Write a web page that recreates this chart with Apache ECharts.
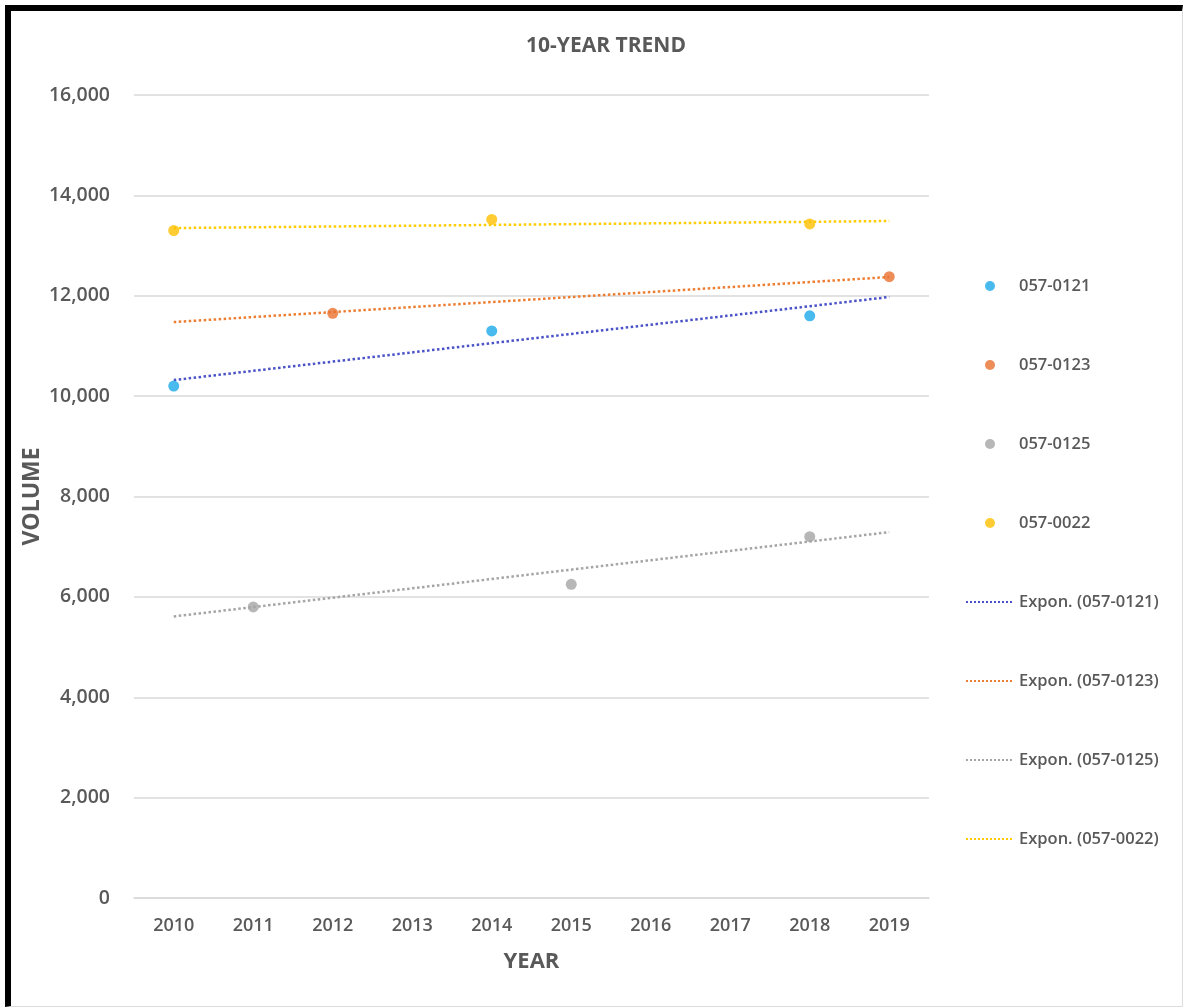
<!DOCTYPE html>
<html>
<head>
<meta charset="utf-8">
<script src="https://cdn.jsdelivr.net/npm/echarts@6/dist/echarts.min.js"></script>
<style>
  body { margin: 0; background: #fff; }
  #chart { width: 1190px; height: 1008px; }
  #frame {
    position: absolute; left: 5px; top: 5px; width: 1178px; height: 1002px;
    border-top: 6px solid #000; border-left: 6px solid #000;
    border-right: 1px solid #ddd; border-bottom: 1px solid #ddd;
    box-sizing: border-box; pointer-events: none;
  }
</style>
</head>
<body>
<div id="chart"></div>
<div id="frame"></div>
<script>
const years = ['2010', '2011', '2012', '2013', '2014', '2015', '2016', '2017', '2018', '2019'];

// scatter points (null = no value that year)
const v0121 = [10200, null, null, null, 11300, null, null, null, 11600, null];
const v0123 = [null, null, 11650, null, null, null, null, null, null, 12380];
const v0125 = [null, 5800, null, null, null, 6250, null, null, 7200, null];
const v0022 = [13300, null, null, null, 13520, null, null, null, 13430, null];

// trend lines, read at first and last year
const trendYears = ['2010', '2019'];
const t0121 = [10320, 11975];
const t0123 = [11476, 12373];
const t0125 = [5610, 7290];
const t0022 = [13349, 13489];

const textColor = '#595959';
const font = 'Open Sans';

const charts = echarts.init(document.getElementById('chart'));

function pairs(xs, ys) {
  return xs.map((x, i) => [x, ys[i]]);
}

function scatter(name, data, color) {
  return {
    name: name,
    type: 'scatter',
    data: data,
    symbol: 'circle',
    symbolSize: 11,
    itemStyle: { color: color },
    z: 3,
  };
}

function trend(name, data, color) {
  return {
    name: name,
    type: 'line',
    data: pairs(trendYears, data),
    symbol: 'none',
    lineStyle: { color: color, width: 2.5, type: 'dotted' },
    itemStyle: { color: color },
    z: 2,
  };
}

const trendNames = ['Expon. (057-0121)', 'Expon. (057-0123)', 'Expon. (057-0125)', 'Expon. (057-0022)'];

const option = {
  backgroundColor: '#fff',
  animation: false,
  title: {
    text: '10-YEAR TREND',
    left: 601,
    textAlign: 'center',
    top: 31,
    textStyle: { color: textColor, fontFamily: font, fontSize: 21, fontWeight: 'bold' },
  },
  grid: { left: 134, right: 261, top: 95, bottom: 110 },
  legend: {
    orient: 'vertical',
    left: 960,
    top: 271,
    itemWidth: 48,
    itemHeight: 10,
    itemGap: 59,
    itemStyle: { borderWidth: 0 },
    textStyle: { color: textColor, fontFamily: font, fontSize: 16.5, fontWeight: 600, lineHeight: 20 },
    data: ['057-0121', '057-0123', '057-0125', '057-0022'].concat(
      trendNames.map((n) => ({ name: n, itemStyle: { opacity: 0 } }))
    ),
  },
  xAxis: {
    type: 'category',
    data: years,
    boundaryGap: true,
    name: 'YEAR',
    nameLocation: 'middle',
    nameGap: 53,
    nameTextStyle: { color: textColor, fontFamily: font, fontSize: 22, fontWeight: 'bold' },
    axisLine: { lineStyle: { color: '#d9d9d9', width: 1.5 } },
    axisTick: { show: false },
    axisLabel: { color: textColor, fontFamily: font, fontSize: 18, fontWeight: 600, margin: 19 },
    splitLine: { show: false },
  },
  yAxis: {
    type: 'value',
    min: 0,
    max: 16000,
    interval: 2000,
    name: 'VOLUME',
    nameLocation: 'middle',
    nameGap: 90,
    nameMoveOverlap: false,
    nameRotate: 90,
    nameTextStyle: { color: textColor, fontFamily: font, fontSize: 23, fontWeight: 'bold' },
    axisLine: { show: false },
    axisTick: { show: false },
    axisLabel: {
      color: textColor, fontFamily: font, fontSize: 19.5, fontWeight: 600, margin: 24,
      formatter: (v) => v.toLocaleString('en-US'),
    },
    splitLine: { lineStyle: { color: '#d9d9d9', width: 1.5 } },
  },
  series: [
    scatter('057-0121', v0121, '#1aa9e8'),
    scatter('057-0123', v0123, '#e8712e'),
    scatter('057-0125', v0125, '#a5a5a5'),
    scatter('057-0022', v0022, '#ffc000'),
    trend(trendNames[0], t0121, '#4a52c8'),
    trend(trendNames[1], t0123, '#ed7d31'),
    trend(trendNames[2], t0125, '#a5a5a5'),
    trend(trendNames[3], t0022, '#ffcc00'),
  ],
};

charts.setOption(option);
</script>
</body>
</html>
